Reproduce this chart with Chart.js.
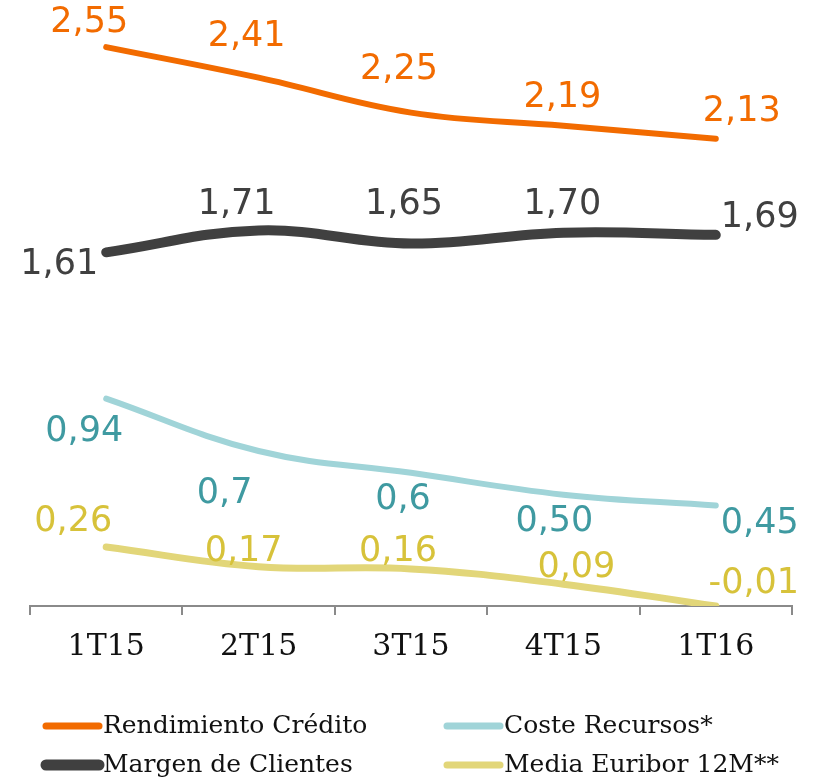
<!DOCTYPE html>
<html>
<head>
<meta charset="utf-8">
<script src="https://cdn.jsdelivr.net/npm/chart.js@4/dist/chart.umd.min.js"></script>
<style>
html,body{margin:0;padding:0;background:#fff;}
#wrap{width:815px;height:779px;position:relative;}
</style>
</head>
<body>
<div id="wrap"><canvas id="c" width="815" height="779"></canvas></div>
<script>
const categories = ["1T15","2T15","3T15","4T15","1T16"];
const rendimientoCredito = [2.55, 2.41, 2.25, 2.19, 2.13];
const margenClientes = [1.61, 1.71, 1.65, 1.70, 1.69];
const costeRecursos = [0.94, 0.70, 0.60, 0.50, 0.45];
const mediaEuribor = [0.26, 0.17, 0.16, 0.09, -0.01];
const seriesNames = ["Rendimiento Crédito","Margen de Clientes","Coste Recursos*","Media Euribor 12M**"];
// label text as printed in the chart
const labelsRend = ["2,55","2,41","2,25","2,19","2,13"];
const labelsMarg = ["1,61","1,71","1,65","1,70","1,69"];
const labelsCoste = ["0,94","0,7","0,6","0,50","0,45"];
const labelsEuri = ["0,26","0,17","0,16","0,09","-0,01"];

// styling (label offsets relative to points, in px)
const offsRend = [[-17,-24],[-12,-41],[-12,-43],[-1,-28],[26,-27]];
const offsMarg = [[-47,13],[-22,-26],[-7,-39],[-1,-28],[44,-17]];
const offsCoste = [[-22,33],[-34,43],[-8,27],[-9,27],[44,18]];
const offsEuri = [[-33,-25],[-15,-15],[-13,-17],[13,-16],[38,-22]];

const lineColors = ["#F26B00","#404040","#A0D4D8","#E2D679"];
const labelColors = ["#F26B00","#404040","#3F9AA1","#D7C23A"];
const lineWidths = [6,10,6,7];

const valueLabelsPlugin = {
  id:'valueLabels',
  afterDatasetsDraw(chart){
    const ctx = chart.ctx;
    const texts = [labelsRend,labelsMarg,labelsCoste,labelsEuri];
    const offs = [offsRend,offsMarg,offsCoste,offsEuri];
    ctx.save();
    ctx.font = '35px "DejaVu Sans"';
    ctx.textAlign = 'center';
    ctx.textBaseline = 'middle';
    chart.data.datasets.forEach((ds,i)=>{
      const meta = chart.getDatasetMeta(i);
      meta.data.forEach((pt,j)=>{
        ctx.fillStyle = labelColors[i];
        ctx.fillText(texts[i][j], pt.x + offs[i][j][0], pt.y + offs[i][j][1]);
      });
    });
    ctx.restore();
  }
};

const legendPlugin = {
  id:'customLegend',
  afterDraw(chart){
    const ctx = chart.ctx;
    const pos = [[46,726],[46,765],[447,726],[447,765]];
    const lw = [7,11,7,7];
    ctx.save();
    ctx.font = '25px "DejaVu Serif"';
    ctx.textBaseline = 'middle';
    ctx.textAlign = 'left';
    seriesNames.forEach((name,i)=>{
      const [x,y] = pos[i];
      ctx.strokeStyle = lineColors[i];
      ctx.lineWidth = lw[i];
      ctx.lineCap = 'round';
      ctx.beginPath();
      ctx.moveTo(x,y); ctx.lineTo(x+53,y); ctx.stroke();
      ctx.fillStyle = '#111';
      ctx.fillText(name, x+57, y);
    });
    ctx.restore();
  }
};

const seriesData = [rendimientoCredito, margenClientes, costeRecursos, mediaEuribor];
new Chart(document.getElementById('c'), {
  type:'line',
  data:{
    labels: categories,
    datasets: seriesData.map((d,i)=>({
      label: seriesNames[i],
      data: d,
      borderColor: lineColors[i],
      backgroundColor: lineColors[i],
      borderWidth: lineWidths[i],
      borderCapStyle: 'round',
      borderJoinStyle: 'round',
      pointRadius: 0,
      tension: 0.4,
      fill: false,
      order: i
    }))
  },
  options:{
    responsive:false,
    animation:false,
    layout:{padding:{left:30,right:23,top:10,bottom:0}},
    plugins:{legend:{display:false},tooltip:{enabled:false}},
    scales:{
      x:{
        offset:true,
        grid:{offset:true,drawOnChartArea:false,drawTicks:true,tickLength:9,color:'#8a8a8a',lineWidth:2},
        border:{display:true,color:'#8a8a8a',width:2},
        ticks:{color:'#111',font:{family:'DejaVu Serif',size:30},padding:14},
        afterFit(scale){ scale.height = 173; }
      },
      y:{
        display:false,
        min:-0.01,
        max:2.72
      }
    }
  },
  plugins:[valueLabelsPlugin, legendPlugin]
});
</script>
</body>
</html>
